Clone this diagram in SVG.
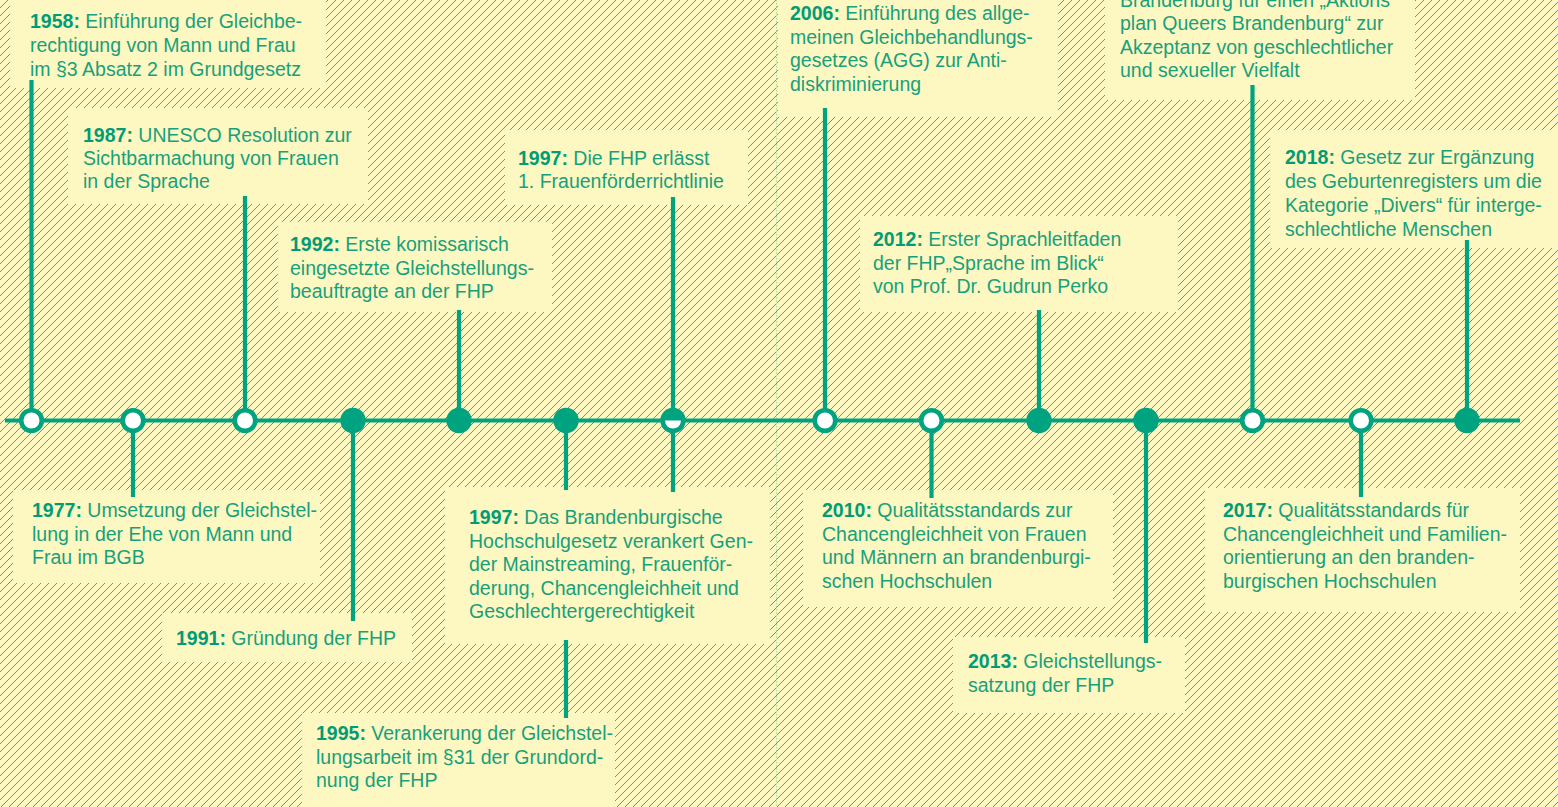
<svg xmlns="http://www.w3.org/2000/svg" width="1558" height="807" viewBox="0 0 1558 807">
<defs>
<pattern id="hatch" patternUnits="userSpaceOnUse" width="8" height="8">
<rect width="8" height="8" fill="#fdf8c2"/>
<path d="M-1,1 L1,-1 M0,8 L8,0 M7,9 L9,7" stroke="#22a77f" stroke-width="0.9"/>
</pattern>
<style>
.box{fill:#fdf8c2}
.t{font-family:"Liberation Sans",Arial,sans-serif;font-size:19.5px;fill:#17a07c}
.y{font-weight:bold;fill:#009c76}
.stem{stroke:#00a380;stroke-width:4.2;fill:none}
.open{fill:#ffffff;stroke:#00a380;stroke-width:4.6}
.full{fill:#00a380}
</style>
</defs>
<rect width="1558" height="807" fill="url(#hatch)"/>
<line x1="776.5" y1="0" x2="776.5" y2="807" stroke="#a9dca2" stroke-width="1.2" stroke-dasharray="1.5 1.5"/>

<g id="n1958"><rect class="box" x="10" y="-10" width="316" height="98"/>
<text class="t" x="30" y="28"><tspan class="y">1958:</tspan> Einführung der Gleichbe-</text>
<text class="t" x="30" y="52">rechtigung von Mann und Frau</text>
<text class="t" x="30" y="76">im §3 Absatz 2 im Grundgesetz</text></g>

<g id="n1987"><rect class="box" x="68" y="108" width="300" height="96"/>
<text class="t" x="83" y="142"><tspan class="y">1987:</tspan> UNESCO Resolution zur</text>
<text class="t" x="83" y="165">Sichtbarmachung von Frauen</text>
<text class="t" x="83" y="188">in der Sprache</text></g>

<g id="n1992"><rect class="box" x="278" y="222" width="274" height="90"/>
<text class="t" x="290" y="251"><tspan class="y">1992:</tspan> Erste komissarisch</text>
<text class="t" x="290" y="274.5">eingesetzte Gleichstellungs-</text>
<text class="t" x="290" y="298">beauftragte an der FHP</text></g>

<g id="n1997a"><rect class="box" x="505" y="130" width="243" height="75"/>
<text class="t" x="518" y="165"><tspan class="y">1997:</tspan> Die FHP erlässt</text>
<text class="t" x="518" y="188">1. Frauenförderrichtlinie</text></g>

<g id="n2006"><rect class="box" x="778" y="-10" width="280" height="127"/>
<text class="t" x="790" y="20"><tspan class="y">2006:</tspan> Einführung des allge-</text>
<text class="t" x="790" y="44">meinen Gleichbehandlungs-</text>
<text class="t" x="790" y="67">gesetzes (AGG) zur Anti-</text>
<text class="t" x="790" y="91">diskriminierung</text></g>

<g id="n2015"><rect class="box" x="1105" y="-10" width="310" height="110"/>
<text class="t" x="1120" y="6.5">Brandenburg für einen „Aktions</text>
<text class="t" x="1120" y="30">plan Queers Brandenburg“ zur</text>
<text class="t" x="1120" y="53.5">Akzeptanz von geschlechtlicher</text>
<text class="t" x="1120" y="77">und sexueller Vielfalt</text></g>

<g id="n2012"><rect class="box" x="860" y="216" width="318" height="96"/>
<text class="t" x="873" y="246"><tspan class="y">2012:</tspan> Erster Sprachleitfaden</text>
<text class="t" x="873" y="270">der FHP„Sprache im Blick“</text>
<text class="t" x="873" y="293">von Prof. Dr. Gudrun Perko</text></g>

<g id="n2018"><rect class="box" x="1270" y="130" width="290" height="118"/>
<text class="t" x="1285" y="164"><tspan class="y">2018:</tspan> Gesetz zur Ergänzung</text>
<text class="t" x="1285" y="188">des Geburtenregisters um die</text>
<text class="t" x="1285" y="212">Kategorie „Divers“ für interge-</text>
<text class="t" x="1285" y="236">schlechtliche Menschen</text></g>

<g id="n1977"><rect class="box" x="13" y="490" width="307" height="93"/>
<text class="t" x="32" y="517"><tspan class="y">1977:</tspan> Umsetzung der Gleichstel-</text>
<text class="t" x="32" y="540.5">lung in der Ehe von Mann und</text>
<text class="t" x="32" y="564">Frau im BGB</text></g>

<g id="n1991"><rect class="box" x="162" y="613" width="250" height="49"/>
<text class="t" x="176" y="645"><tspan class="y">1991:</tspan> Gründung der FHP</text></g>

<g id="n1997b"><rect class="box" x="445" y="487" width="325" height="157"/>
<text class="t" x="469" y="524"><tspan class="y">1997:</tspan> Das Brandenburgische</text>
<text class="t" x="469" y="547.5">Hochschulgesetz verankert Gen-</text>
<text class="t" x="469" y="571">der Mainstreaming, Frauenför-</text>
<text class="t" x="469" y="594.5">derung, Chancengleichheit und</text>
<text class="t" x="469" y="618">Geschlechtergerechtigkeit</text></g>

<g id="n1995"><rect class="box" x="302" y="713" width="313" height="100"/>
<text class="t" x="316" y="740"><tspan class="y">1995:</tspan> Verankerung der Gleichstel-</text>
<text class="t" x="316" y="764">lungsarbeit im §31 der Grundord-</text>
<text class="t" x="316" y="787">nung der FHP</text></g>

<g id="n2010"><rect class="box" x="803" y="490" width="310" height="117"/>
<text class="t" x="822" y="517"><tspan class="y">2010:</tspan> Qualitätsstandards zur</text>
<text class="t" x="822" y="540.5">Chancengleichheit von Frauen</text>
<text class="t" x="822" y="564">und Männern an brandenburgi-</text>
<text class="t" x="822" y="588">schen Hochschulen</text></g>

<g id="n2013"><rect class="box" x="953" y="637" width="232" height="76"/>
<text class="t" x="968" y="668"><tspan class="y">2013:</tspan> Gleichstellungs-</text>
<text class="t" x="968" y="692">satzung der FHP</text></g>

<g id="n2017"><rect class="box" x="1205" y="488" width="315" height="124"/>
<text class="t" x="1223" y="517"><tspan class="y">2017:</tspan> Qualitätsstandards für</text>
<text class="t" x="1223" y="540.5">Chancengleichheit und Familien-</text>
<text class="t" x="1223" y="564">orientierung an den branden-</text>
<text class="t" x="1223" y="588">burgischen Hochschulen</text></g>

<g id="connectors">
<line x1="5" y1="420.5" x2="1520" y2="420.5" stroke="#00a380" stroke-width="4.2"/>
<path class="stem" d="M31.5,80 V420 M133,420 V497 M245,196 V420 M353,420 V621 M459,310 V420 M566,420 V490 M566,640 V718 M673,197 V492 M825,108 V420 M931.5,420 V498 M1039,310 V420 M1146,420 V643 M1252.5,85 V420 M1361,420 V497 M1467,240 V420"/>
</g>

<g id="markers">
<circle class="open" cx="31.5" cy="420.5" r="10.3"/>
<circle class="open" cx="133" cy="420.5" r="10.3"/>
<circle class="open" cx="245" cy="420.5" r="10.3"/>
<circle class="full" cx="353" cy="420.5" r="12.7"/>
<circle class="full" cx="459" cy="420.5" r="12.7"/>
<circle class="full" cx="566" cy="420.5" r="12.7"/>
<circle class="full" cx="673" cy="420.5" r="12.7"/>
<path d="M665,420.5 A8,8 0 0 0 681,420.5 Z" fill="#ffffff"/>
<circle class="open" cx="825" cy="420.5" r="10.3"/>
<circle class="open" cx="931.5" cy="420.5" r="10.3"/>
<circle class="full" cx="1039" cy="420.5" r="12.7"/>
<circle class="full" cx="1146" cy="420.5" r="12.7"/>
<circle class="open" cx="1252.5" cy="420.5" r="10.3"/>
<circle class="open" cx="1361" cy="420.5" r="10.3"/>
<circle class="full" cx="1467" cy="420.5" r="12.7"/>
</g>
</svg>
